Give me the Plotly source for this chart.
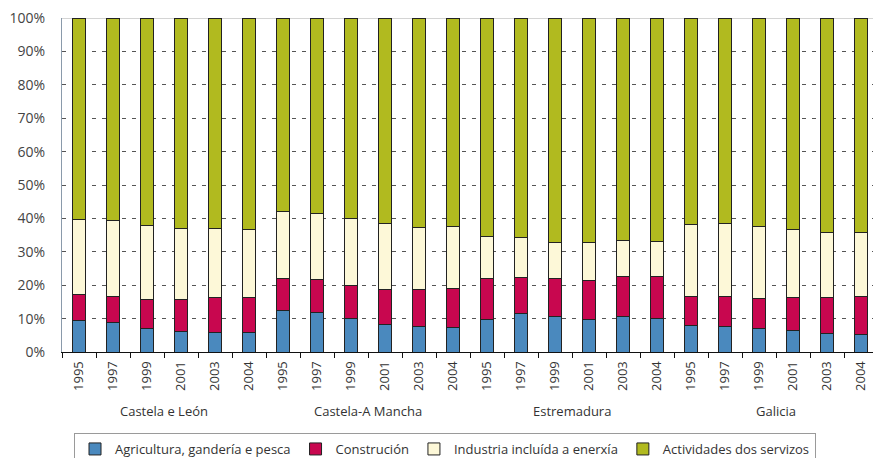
import plotly.graph_objects as go

regions = ["Castela e León", "Castela-A Mancha", "Estremadura", "Galicia"]
years = ["1995", "1997", "1999", "2001", "2003", "2004"]

# shares (%) per bar, in order region x year
agricultura = [9.3, 8.9, 7.1, 6.2, 5.8, 5.7,
               12.4, 11.9, 10.0, 8.1, 7.6, 7.4,
               9.6, 11.4, 10.7, 9.6, 10.6, 10.0,
               8.0, 7.7, 7.0, 6.4, 5.4, 5.3]
construcion = [7.8, 7.7, 8.5, 9.4, 10.5, 10.6,
               9.7, 9.7, 9.8, 10.5, 11.2, 11.6,
               12.3, 10.8, 11.2, 11.9, 12.1, 12.7,
               8.7, 8.8, 9.1, 9.8, 10.9, 11.3]
industria = [22.6, 22.9, 22.3, 21.4, 20.6, 20.5,
             20.1, 20.0, 20.1, 19.8, 18.4, 18.7,
             12.6, 12.2, 11.0, 11.2, 10.6, 10.3,
             21.6, 22.1, 21.6, 20.5, 19.4, 19.1]
servizos = [60.3, 60.5, 62.1, 63.0, 63.1, 63.2,
            57.8, 58.4, 60.1, 61.6, 62.8, 62.3,
            65.5, 65.6, 67.1, 67.3, 66.7, 67.0,
            61.7, 61.4, 62.3, 63.3, 64.3, 64.3]

series_names = ["Agricultura, gandería e pesca", "Construción",
                "Industria incluída a enerxía", "Actividades dos servizos"]
series_values = [agricultura, construcion, industria, servizos]
colors = ["#4a89be", "#c8074f", "#fdf8d8", "#b1ba1f"]

tick_labels = [y for r in regions for y in years]
xpos = list(range(len(tick_labels)))

FONT = "Open Sans"

fig = go.Figure()
for name, vals, col in zip(series_names, series_values, colors):
    fig.add_trace(go.Bar(
        x=xpos, y=vals, name=name, width=0.4,
        marker=dict(color=col, line=dict(color="#222222", width=1)),
    ))

for i, r in enumerate(regions):
    fig.add_annotation(x=i * len(years) + (len(years) - 1) / 2, y=-0.177,
                       xref="x", yref="paper", text=r, showarrow=False,
                       yanchor="middle", font=dict(family=FONT, size=13, color="#333333"))

fig.add_shape(type="line", xref="paper", yref="y", x0=0, x1=1, y0=100, y1=100,
              line=dict(color="#aaaaaa", width=1), layer="below")

fig.update_layout(
    width=873, height=458,
    barmode="stack",
    paper_bgcolor="white", plot_bgcolor="white",
    margin=dict(l=62, r=0, t=18, b=106, autoexpand=False),
    font=dict(family=FONT, size=13, color="#333333"),
    showlegend=True,
    legend=dict(orientation="h", x=0.0148, xanchor="left", y=-0.2425, yanchor="top",
                traceorder="normal", bordercolor="#9a9a9a", borderwidth=1,
                bgcolor="white", font=dict(family=FONT, size=13, color="#333333")),
    xaxis=dict(
        range=[-0.5, 23.35], tickmode="array", tickvals=xpos, ticktext=tick_labels,
        tickangle=-90, ticks="", showgrid=False, zeroline=False,
        showline=True, linecolor="#111111", linewidth=1, ticklabelstandoff=3,
        tickfont=dict(family=FONT, size=13, color="#333333"),
        minor=dict(tickmode="linear", tick0=0.5, dtick=1, ticks="outside",
                   ticklen=5, tickcolor="#111111", tickwidth=1, showgrid=False),
    ),
    yaxis=dict(
        range=[0, 100], tickmode="array", tickvals=list(range(0, 101, 10)),
        ticktext=[f"{v}%" for v in range(0, 101, 10)],
        showgrid=True, gridcolor="#555555", gridwidth=1, griddash="4px,6px",
        zeroline=False, showline=True, linecolor="#8a9aab", linewidth=1,
        ticks="", ticklabelstandoff=13,
        tickfont=dict(family=FONT, size=14, color="#444444"),
    ),
)

fig.write_html("out.html", config={"displayModeBar": False},
               post_script="document.body.style.margin='0px';document.body.style.overflow='hidden';")
